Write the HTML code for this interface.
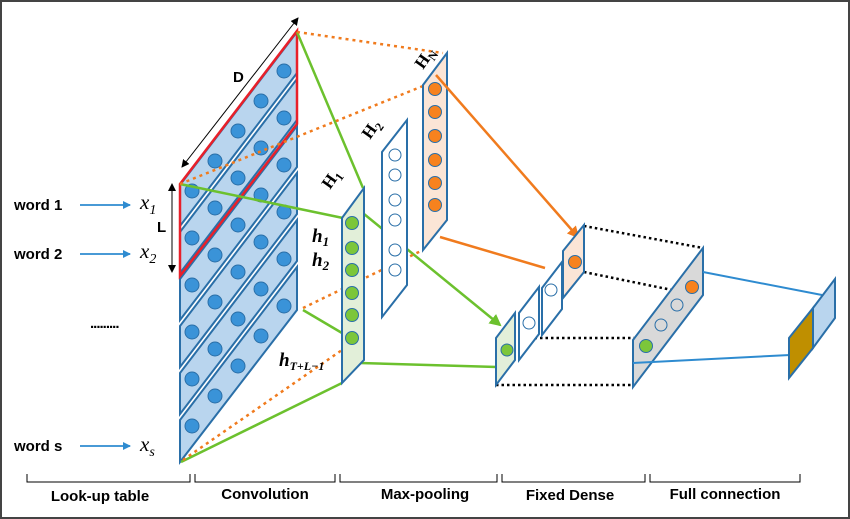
<!DOCTYPE html>
<html><head><meta charset="utf-8"><style>
html,body{margin:0;padding:0;background:#fff}
svg{display:block}
</style></head><body>
<svg width="850" height="519" viewBox="0 0 850 519" xmlns="http://www.w3.org/2000/svg">
<defs>
<marker id="ab" markerWidth="8" markerHeight="8" refX="7" refY="4" orient="auto" markerUnits="userSpaceOnUse"><path d="M0,0 L8,4 L0,8 z" fill="#2e8bd0"/></marker>
<marker id="ao" markerWidth="12" markerHeight="12" refX="10" refY="6" orient="auto" markerUnits="userSpaceOnUse"><path d="M0,0 L12,6 L0,12 z" fill="#f07b1e"/></marker>
<marker id="ag" markerWidth="12" markerHeight="12" refX="10" refY="6" orient="auto" markerUnits="userSpaceOnUse"><path d="M0,0 L12,6 L0,12 z" fill="#6cc12e"/></marker>
<marker id="ak" markerWidth="8" markerHeight="8" refX="7" refY="4" orient="auto-start-reverse" markerUnits="userSpaceOnUse"><path d="M0,0 L8,4 L0,8 z" fill="#000"/></marker>
</defs>
<rect x="1" y="1" width="848" height="517" fill="#fff" stroke="#444" stroke-width="2"/>

<!-- stack strips -->
<g stroke="#2a6fa8" stroke-width="2" fill="#b9d5ee">
<polygon points="180,185 297,32 297,73 180,226"/>
<polygon points="180,232 297,79 297,120 180,273"/>
<polygon points="180,279 297,126 297,167 180,320"/>
<polygon points="180,326 297,173 297,214 180,367"/>
<polygon points="180,373 297,220 297,261 180,414"/>
<polygon points="180,420 297,267 297,310 180,462"/>
</g>
<g fill="#3a93d8" stroke="#2a6fa8" stroke-width="1">
<g id="row"><circle cx="192" cy="191" r="7"/><circle cx="215" cy="161" r="7"/><circle cx="238" cy="131" r="7"/><circle cx="261" cy="101" r="7"/><circle cx="284" cy="71" r="7"/></g>
<use href="#row" y="47"/><use href="#row" y="94"/><use href="#row" y="141"/><use href="#row" y="188"/><use href="#row" y="235"/>
</g>
<polygon points="180,184 297,31 297,124 180,276" fill="none" stroke="#e8202a" stroke-width="2.5"/>
<line x1="182" y1="167" x2="298" y2="18" stroke="#000" stroke-width="1" marker-start="url(#ak)" marker-end="url(#ak)"/>
<text x="233" y="82" font-family="Liberation Sans,sans-serif" font-weight="bold" font-size="15">D</text>
<line x1="172" y1="184" x2="172" y2="272" stroke="#000" stroke-width="1" marker-start="url(#ak)" marker-end="url(#ak)"/>
<text x="157" y="232" font-family="Liberation Sans,sans-serif" font-weight="bold" font-size="15">L</text>

<!-- conv lines -->
<g stroke="#6cc12e" stroke-width="2.5" fill="none">
<line x1="297" y1="32" x2="363" y2="188"/>
<line x1="180" y1="184" x2="343" y2="218"/>
<line x1="303" y1="310" x2="342" y2="333"/>
<line x1="181" y1="462" x2="342" y2="383"/>
<line x1="360" y1="363" x2="497" y2="367"/>
<line x1="353" y1="205" x2="500" y2="325" marker-end="url(#ag)"/>
</g>
<g stroke="#f07b1e" stroke-width="2.5" fill="none" stroke-dasharray="3,4">
<line x1="297" y1="32" x2="443" y2="53"/>
<line x1="180" y1="184" x2="423" y2="86"/>
<line x1="303" y1="308" x2="423" y2="250"/>
<line x1="183" y1="460" x2="342" y2="350"/>
</g>

<!-- H1 -->
<polygon points="342,218 364,188 364,360 342,383" fill="#e2efd9" stroke="#2a6fa8" stroke-width="2"/>
<g fill="#7cc63a" stroke="#2a6fa8" stroke-width="1">
<circle cx="352" cy="223" r="6.5"/><circle cx="352" cy="248" r="6.5"/><circle cx="352" cy="270" r="6.5"/><circle cx="352" cy="293" r="6.5"/><circle cx="352" cy="315" r="6.5"/><circle cx="352" cy="338" r="6.5"/>
</g>
<!-- H2 -->
<polygon points="382,152 407,120 407,285 382,317" fill="#fff" stroke="#2a6fa8" stroke-width="2"/>
<g fill="#fff" stroke="#2a6fa8" stroke-width="1">
<circle cx="395" cy="155" r="6"/><circle cx="395" cy="175" r="6"/><circle cx="395" cy="200" r="6"/><circle cx="395" cy="220" r="6"/><circle cx="395" cy="250" r="6"/><circle cx="395" cy="270" r="6"/>
</g>
<!-- HN -->
<polygon points="423,85 447,53 447,220 423,250" fill="#fbe5d6" stroke="#2a6fa8" stroke-width="2"/>
<g fill="#f7821e" stroke="#2a6fa8" stroke-width="1">
<circle cx="435" cy="89" r="6.5"/><circle cx="435" cy="112" r="6.5"/><circle cx="435" cy="136" r="6.5"/><circle cx="435" cy="160" r="6.5"/><circle cx="435" cy="183" r="6.5"/><circle cx="435" cy="205" r="6.5"/>
</g>
<g font-family="Liberation Serif,serif" font-weight="bold" font-size="17">
<text transform="translate(330,190) rotate(-55)">H<tspan font-size="12" dy="4">1</tspan></text>
<text transform="translate(370,140) rotate(-55)">H<tspan font-size="12" dy="4">2</tspan></text>
<text transform="translate(423,70) rotate(-55)">H<tspan font-size="12" dy="4">N</tspan></text>
<text x="312" y="242" font-style="italic" font-size="19">h<tspan font-size="13" dy="4">1</tspan></text>
<text x="312" y="266" font-style="italic" font-size="19">h<tspan font-size="13" dy="4">2</tspan></text>
<text x="279" y="366" font-style="italic" font-size="19">h<tspan font-size="12" dy="4">T+L−1</tspan></text>
</g>

<!-- orange arrows -->
<line x1="436" y1="75" x2="578" y2="237" stroke="#f07b1e" stroke-width="2.5" marker-end="url(#ao)"/>
<line x1="440" y1="237" x2="545" y2="268" stroke="#f07b1e" stroke-width="2.5"/>

<!-- dotted box -->
<g stroke="#000" stroke-width="2.5" stroke-dasharray="2.5,3" fill="none">
<line x1="496" y1="338" x2="634" y2="338"/>
<line x1="496" y1="385" x2="634" y2="385"/>
<line x1="584" y1="226" x2="703" y2="248"/>
<line x1="584" y1="272" x2="672" y2="290"/>
</g>
<!-- fixed dense panels -->
<g stroke="#2a6fa8" stroke-width="2">
<polygon points="496,338 515,313 515,360 496,385" fill="#e2efd9"/>
<polygon points="519,313 539,287 539,334 519,360" fill="#fff"/>
<polygon points="542,288 562,262 562,309 542,335" fill="#fff"/>
<polygon points="563,251 584,225 584,272 563,298" fill="#fbe5d6"/>
</g>
<circle cx="507" cy="350" r="6" fill="#7cc63a" stroke="#2a6fa8"/>
<circle cx="529" cy="323" r="6" fill="#fff" stroke="#2a6fa8"/>
<circle cx="551" cy="290" r="6" fill="#fff" stroke="#2a6fa8"/>
<circle cx="575" cy="262" r="6.5" fill="#f7821e" stroke="#2a6fa8"/>

<!-- full conn panel -->
<polygon points="633,340 703,248 703,295 633,387" fill="#d9d9d9" stroke="#2a6fa8" stroke-width="2"/>
<circle cx="646" cy="346" r="6.5" fill="#7cc63a" stroke="#2a6fa8"/>
<circle cx="661" cy="325" r="6" fill="none" stroke="#2a6fa8"/>
<circle cx="677" cy="305" r="6" fill="none" stroke="#2a6fa8"/>
<circle cx="692" cy="287" r="6.5" fill="#f7821e" stroke="#2a6fa8"/>
<line x1="703" y1="272" x2="822" y2="295" stroke="#2e8bd0" stroke-width="2"/>
<line x1="633" y1="363" x2="790" y2="355" stroke="#2e8bd0" stroke-width="2"/>
<polygon points="813,308 835,279 835,318 813,348" fill="#b9d5ee" stroke="#2a6fa8" stroke-width="2"/>
<polygon points="789,338 813,308 813,348 789,378" fill="#bf8f00" stroke="#2a6fa8" stroke-width="2"/>

<!-- left labels -->
<g font-family="Liberation Sans,sans-serif" font-weight="bold" font-size="15">
<text x="14" y="210">word 1</text>
<text x="14" y="259">word 2</text>
<text x="14" y="451">word s</text>
<text x="90" y="328" letter-spacing="-1">.........</text>
</g>
<g stroke="#2e8bd0" stroke-width="1.8">
<line x1="80" y1="205" x2="130" y2="205" marker-end="url(#ab)"/>
<line x1="80" y1="254" x2="130" y2="254" marker-end="url(#ab)"/>
<line x1="80" y1="446" x2="130" y2="446" marker-end="url(#ab)"/>
</g>
<g font-family="Liberation Serif,serif" font-style="italic" font-size="21">
<text x="140" y="209">x<tspan font-size="14" dy="5">1</tspan></text>
<text x="140" y="258">x<tspan font-size="14" dy="5">2</tspan></text>
<text x="140" y="451">x<tspan font-size="14" dy="5">s</tspan></text>
</g>

<!-- brackets -->
<g stroke="#000" stroke-width="1" fill="none">
<path d="M27,474 v8 h163 v-8"/>
<path d="M195,474 v8 h140 v-8"/>
<path d="M340,474 v8 h157 v-8"/>
<path d="M502,474 v8 h143 v-8"/>
<path d="M650,474 v8 h150 v-8"/>
</g>
<g font-family="Liberation Sans,sans-serif" font-weight="bold" font-size="15" text-anchor="middle">
<text x="100" y="501">Look-up table</text>
<text x="265" y="499">Convolution</text>
<text x="425" y="499">Max-pooling</text>
<text x="570" y="500">Fixed Dense</text>
<text x="725" y="499">Full connection</text>
</g>
</svg>
</body></html>
